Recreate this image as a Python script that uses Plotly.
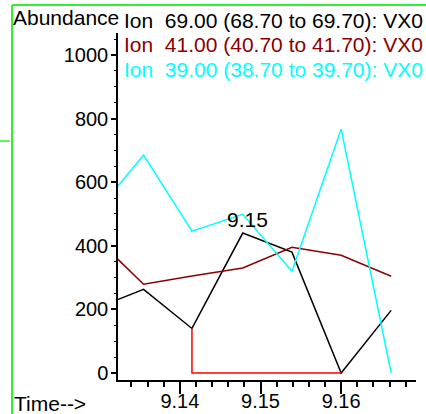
import plotly.graph_objects as go

# ---- data ----
time = [9.1323, 9.1355, 9.1415, 9.1478, 9.1539, 9.1600, 9.1662]
ion69 = [231, 263, 140, 440, 380, 0, 197]
ion41 = [358, 279, 305, 330, 395, 370, 304]
ion39 = [587, 685, 446, 499, 320, 767, 0]
legend_labels = [
    "Ion  69.00 (68.70 to 69.70): VX0",
    "Ion  41.00 (40.70 to 41.70): VX0",
    "Ion  39.00 (38.70 to 39.70): VX0",
]
peak_label = "9.15"
x_ticks = [9.14, 9.15, 9.16]
y_ticks = [0, 200, 400, 600, 800, 1000]

FONT = "Liberation Sans, Arial, sans-serif"
FS = 21
TFS = 20
W, H = 426, 414
L, R, T, B = 118, 10, 33, 34
PW, PH = W - L - R, H - T - B

def px(x):
    return (x - L) / PW

def py(y):
    return (H - B - y) / PH

colors = ["#000000", "#8b0000", "#00ffff"]
series = [ion69, ion41, ion39]

fig = go.Figure()
for s, c, name in zip(series, colors, legend_labels):
    fig.add_trace(go.Scatter(x=time, y=s, mode="lines", name=name,
                             line=dict(color=c, width=1.5), showlegend=False,
                             hoverinfo="skip"))

# integration baseline (red) from the peak start to end
fig.add_trace(go.Scatter(x=[time[2], time[2], time[5]], y=[ion69[2], 0, 0],
                         mode="lines", line=dict(color="#ff0000", width=1.5),
                         showlegend=False, hoverinfo="skip"))

ann = []
ann.append(dict(x=px(11), y=py(17.5), xref="paper", yref="paper", text="Abundance",
                showarrow=False, xanchor="left", yanchor="middle",
                font=dict(family=FONT, size=FS, color="black")))
for i, (lab, c) in enumerate(zip(legend_labels, colors)):
    ann.append(dict(x=px(122), y=py(20 + 24.5 * i), xref="paper", yref="paper", text=lab,
                    showarrow=False, xanchor="left", yanchor="middle",
                    font=dict(family=FONT, size=FS, color=c)))
ann.append(dict(x=px(12), y=py(403), xref="paper", yref="paper", text="Time-->",
                showarrow=False, xanchor="left", yanchor="middle",
                font=dict(family=FONT, size=FS, color="black")))
ann.append(dict(x=time[3], y=ion69[3], xref="x", yref="y", text=peak_label,
                showarrow=False, xanchor="center", yanchor="bottom", xshift=5, yshift=0,
                font=dict(family=FONT, size=FS, color="black")))

green = "#33ee33"
shapes = [
    dict(type="line", xref="paper", yref="paper", x0=px(12), x1=px(12), y0=py(5), y1=py(414),
         line=dict(color=green, width=2)),
    dict(type="line", xref="paper", yref="paper", x0=px(12), x1=px(426), y0=py(5), y1=py(5),
         line=dict(color=green, width=2)),
    dict(type="line", xref="paper", yref="paper", x0=px(0), x1=px(10), y0=py(141), y1=py(141),
         line=dict(color=green, width=1.5)),
]

fig.update_layout(
    width=W, height=H,
    margin=dict(l=L, r=R, t=T, b=B, pad=0, autoexpand=False),
    paper_bgcolor="white", plot_bgcolor="white",
    annotations=ann, shapes=shapes,
    font=dict(family=FONT, size=FS, color="black"),
    hovermode=False,
)
fig.update_xaxes(
    range=[9.13233, 9.16928], showgrid=False, zeroline=False, automargin=False,
    showline=True, linecolor="black", linewidth=1.5,
    ticks="outside", ticklen=12, tickwidth=1.5, tickcolor="black",
    tickvals=x_ticks, ticktext=[f"{v:.2f}" for v in x_ticks],
    tickfont=dict(family=FONT, size=TFS, color="black"),
    ticklabelstandoff=-10,
    minor=dict(dtick=0.002, tick0=9.14, ticks="outside", ticklen=5, tickwidth=1.5,
               tickcolor="black", showgrid=False),
)
fig.update_yaxes(
    range=[-22, 1069], showgrid=False, zeroline=False, automargin=False,
    showline=True, linecolor="black", linewidth=1.5,
    ticks="outside", ticklen=5, tickwidth=1.5, tickcolor="black",
    tickvals=y_ticks, ticktext=[str(v) for v in y_ticks],
    tickfont=dict(family=FONT, size=TFS, color="black"),
    ticklabelstandoff=-1,
    minor=dict(dtick=50, tick0=0, ticks="outside", ticklen=2, tickwidth=1,
               tickcolor="black", showgrid=False),
)

fig.write_html("out.html", config={"displayModeBar": False},
               post_script="document.body.style.margin='0px';")
